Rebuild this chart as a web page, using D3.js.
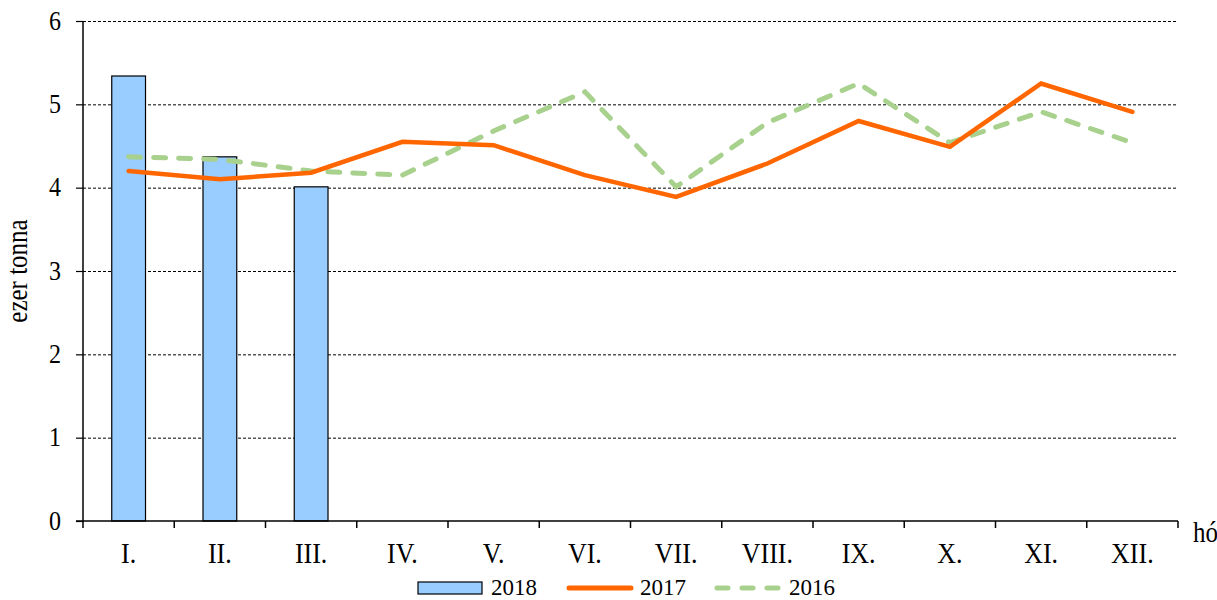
<!DOCTYPE html>
<html>
<head>
<meta charset="utf-8">
<script src="https://cdn.jsdelivr.net/npm/d3@7"></script>
<style>
  body { margin: 0; background: #fff; }
  #chart { width: 1217px; height: 600px; }
  svg text { font-family: "Liberation Serif", "Times New Roman", serif; fill: #000; }
</style>
</head>
<body>
<div id="chart"></div>
<script>
// havi adatok (ezer tonna)
const months = ["I.", "II.", "III.", "IV.", "V.", "VI.", "VII.", "VIII.", "IX.", "X.", "XI.", "XII."];
const values2018 = [5.34, 4.37, 4.01];
const values2017 = [4.20, 4.10, 4.18, 4.55, 4.51, 4.15, 3.89, 4.29, 4.80, 4.49, 5.25, 4.91];
const values2016 = [4.37, 4.34, 4.20, 4.15, 4.68, 5.15, 4.01, 4.78, 5.25, 4.54, 4.91, 4.54];
const yTicks = [0, 1, 2, 3, 4, 5, 6];
const seriesNames = ["2018", "2017", "2016"];

const width = 1217;
const height = 600;
const marginLeft = 83;
const marginRight = 39;
const marginTop = 21;
const marginBottom = 79;

const colorBar = "#99ccff";
const color2017 = "#ff6600";
const color2016 = "#a9d18e";
const stretch = "scale(1,1.15)"; // az eredeti betűk kicsit magasabbak

const svg = d3.select("#chart")
    .append("svg")
    .attr("width", width)
    .attr("height", height);

const x = d3.scaleBand()
    .domain(months)
    .range([marginLeft, width - marginRight]);

const y = d3.scaleLinear()
    .domain([0, 6])
    .range([height - marginBottom, marginTop]);

// rácsvonalak
svg.append("g")
    .selectAll("line")
    .data(yTicks.filter(d => d > 0))
    .join("line")
    .attr("x1", marginLeft)
    .attr("x2", width - marginRight)
    .attr("y1", d => y(d) + 0.5)
    .attr("y2", d => y(d) + 0.5)
    .attr("stroke", "#000")
    .attr("stroke-width", 1)
    .attr("stroke-dasharray", "3,2");

// oszlopok 2018
const barWidth = x.bandwidth() * 0.37;
svg.append("g")
    .selectAll("rect")
    .data(values2018)
    .join("rect")
    .attr("x", (d, i) => x(months[i]) + (x.bandwidth() - barWidth) / 2)
    .attr("y", d => y(d))
    .attr("width", barWidth)
    .attr("height", d => y(0) - y(d))
    .attr("fill", colorBar)
    .attr("stroke", "#000")
    .attr("stroke-width", 1.2);

// y tengely
const yAxis = d3.axisLeft(y)
    .tickValues(yTicks)
    .tickFormat(d3.format("d"))
    .tickSize(7)
    .tickPadding(15);

const yAxisGroup = svg.append("g")
    .attr("transform", `translate(${marginLeft},0)`)
    .call(yAxis);
yAxisGroup.select(".domain").attr("stroke-width", 1.5).attr("d", `M0,${y(6)}V${y(0)}`);
yAxisGroup.selectAll(".tick line").attr("stroke-width", 1.2);
yAxisGroup.selectAll(".tick text")
    .attr("dy", "0.3em")
    .attr("transform", stretch)
    .style("font-size", "24px");

// x tengely: osztásjelek a kategóriák határán
const xAxisGroup = svg.append("g")
    .attr("transform", `translate(0,${y(0)})`);
xAxisGroup.append("line")
    .attr("x1", marginLeft - 7)
    .attr("x2", width - marginRight)
    .attr("stroke", "#000")
    .attr("stroke-width", 1.5);
xAxisGroup.selectAll("line.tick")
    .data(d3.range(months.length + 1))
    .join("line")
    .attr("class", "tick")
    .attr("x1", i => marginLeft + i * x.step())
    .attr("x2", i => marginLeft + i * x.step())
    .attr("y1", 0)
    .attr("y2", 7)
    .attr("stroke", "#000")
    .attr("stroke-width", 1.5);
xAxisGroup.selectAll("text")
    .data(months)
    .join("text")
    .attr("transform", d => `translate(${x(d) + x.bandwidth() / 2},42) ${stretch}`)
    .attr("text-anchor", "middle")
    .style("font-size", "26px")
    .text(d => d);

// vonalak
const line = d3.line()
    .x((d, i) => x(months[i]) + x.bandwidth() / 2)
    .y(d => y(d));

svg.append("path")
    .datum(values2016)
    .attr("fill", "none")
    .attr("stroke", color2016)
    .attr("stroke-width", 5)
    .attr("stroke-linecap", "round")
    .attr("stroke-dasharray", "12,13")
    .attr("d", line);

svg.append("path")
    .datum(values2017)
    .attr("fill", "none")
    .attr("stroke", color2017)
    .attr("stroke-width", 4.5)
    .attr("stroke-linejoin", "miter")
    .attr("stroke-linecap", "round")
    .attr("d", line);

// tengelyfeliratok
svg.append("text")
    .attr("transform", `translate(27,${(y(0) + y(6)) / 2}) rotate(-90) ${stretch}`)
    .attr("text-anchor", "middle")
    .style("font-size", "25px")
    .text("ezer tonna");

svg.append("text")
    .attr("transform", `translate(${width - marginRight + 15},${y(0) + 21}) ${stretch}`)
    .style("font-size", "25px")
    .text("hó");

// jelmagyarázat (az alsó szélen, hogy ne vágódjon le)
const legend = svg.append("g").attr("transform", "translate(0,588)");
legend.append("rect")
    .attr("x", 418).attr("y", -6)
    .attr("width", 64).attr("height", 12)
    .attr("fill", colorBar).attr("stroke", "#000").attr("stroke-width", 1.2);
legend.append("text")
    .attr("x", 491).attr("y", 7)
    .style("font-size", "23px").text(seriesNames[0]);

legend.append("line")
    .attr("x1", 569).attr("x2", 631)
    .attr("stroke", color2017).attr("stroke-width", 5).attr("stroke-linecap", "round");
legend.append("text")
    .attr("x", 640).attr("y", 7)
    .style("font-size", "23px").text(seriesNames[1]);

legend.append("line")
    .attr("x1", 717).attr("x2", 778)
    .attr("stroke", color2016).attr("stroke-width", 5).attr("stroke-linecap", "round")
    .attr("stroke-dasharray", "11,14");
legend.append("text")
    .attr("x", 789).attr("y", 7)
    .style("font-size", "23px").text(seriesNames[2]);
</script>
</body>
</html>
